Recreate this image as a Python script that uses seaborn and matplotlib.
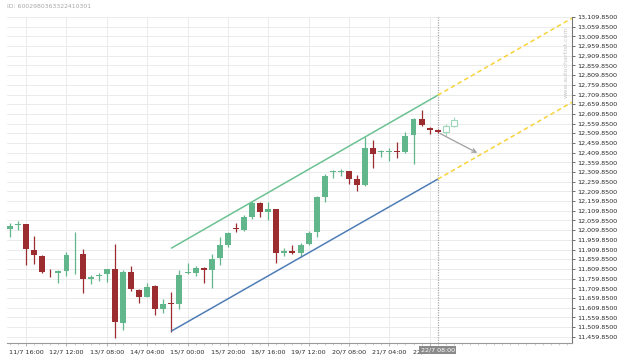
import matplotlib
matplotlib.use("Agg")
import matplotlib.pyplot as plt
import numpy as np
import pandas as pd
import seaborn as sns
from matplotlib.ticker import FixedLocator, FuncFormatter

# 4h candles
opens = [12014, 12034, 12040, 11907, 11876, 11790, 11787, 11799, 11885, 11886,
         11759, 11771, 11782, 11807, 11532, 11794, 11701, 11666, 11721, 11604,
         11632, 11628, 11788, 11788, 11814, 11804, 11866, 11931, 12019, 12010,
         12079, 12148, 12104, 12118, 11890, 11903, 11890, 11938, 12000, 12182,
         12309, 12309, 12313, 12272, 12241, 12433, 12412, 12412, 12416, 12412,
         12501, 12581, 12536, 12529]
highs = [12045, 12058, 12044, 11979, 11881, 11807, 11804, 11897, 12000, 11911,
         11777, 11790, 11811, 11938, 11804, 11825, 11704, 11735, 11725, 11656,
         11690, 11804, 11838, 11825, 11818, 11886, 11972, 12000, 12045, 12086,
         12158, 12154, 12154, 12120, 11917, 11931, 11942, 12007, 12185, 12302,
         12319, 12325, 12315, 12297, 12491, 12474, 12426, 12433, 12464, 12515,
         12588, 12629, 12540, 12532]
lows = [11972, 12010, 11828, 11835, 11790, 11766, 11738, 11773, 11783, 11684,
        11732, 11746, 11742, 11452, 11495, 11697, 11635, 11663, 11573, 11584,
        11484, 11604, 11783, 11774, 11735, 11711, 11828, 11924, 12000, 12007,
        12065, 12079, 12062, 11838, 11876, 11886, 11869, 11931, 11976, 12156,
        12278, 12289, 12247, 12210, 12237, 12333, 12388, 12367, 12381, 12406,
        12350, 12546, 12505, 12512]
closes = [12031, 12041, 11911, 11880, 11794, 11787, 11797, 11883, 11888, 11756,
          11769, 11780, 11807, 11536, 11794, 11707, 11666, 11718, 11604, 11629,
          11629, 11780, 11794, 11814, 11805, 11862, 11931, 11993, 12014, 12079,
          12148, 12103, 12117, 11893, 11903, 11890, 11934, 11996, 12179, 12290,
          12313, 12313, 12275, 12241, 12433, 12402, 12416, 12416, 12412, 12498,
          12581, 12550, 12529, 12515]

# two projected candles after the last bar
proj_pos = [54, 55]
proj_open = [12515, 12546]
proj_high = [12560, 12594]
proj_low = [12498, 12540]
proj_close = [12546, 12577]

# channel (candle positions and prices)
channel_x = [20, 53]
channel_upper = [11917, 12706]
channel_lower = [11489, 12273]
ext_x = [53, 69.64]
ext_upper = [12706, 13104]
ext_lower = [12273, 12670]
arrow_start = (53, 12515)
arrow_end = (58.2, 12402)

tick_pos = [2, 7, 12, 17, 22, 27, 32, 37, 42, 47, 52]
tick_labels = ["11/7 16:00", "12/7 12:00", "13/7 08:00", "14/7 04:00",
               "15/7 00:00", "15/7 20:00", "18/7 16:00", "19/7 12:00",
               "20/7 08:00", "21/7 04:00", "22/7 00:00"]
current_pos = 53
current_label = "22/7 08:00"

GREEN = "#62b68b"
RED = "#9b2d30"

sns.set_style("white")
plt.rcParams["font.family"] = ["DejaVu Sans"]

candles = pd.DataFrame({"pos": np.arange(len(opens)), "open": opens,
                        "high": highs, "low": lows, "close": closes})
candles["up"] = candles["close"] >= candles["open"]
candles["color"] = np.where(candles["up"], GREEN, RED)
candles["bottom"] = candles[["open", "close"]].min(axis=1)
candles["height"] = (candles["close"] - candles["open"]).abs().clip(lower=4)

fig = plt.figure(figsize=(6.25, 3.58), dpi=100)
ax = fig.add_axes([0.0112, 0.0419, 0.904, 0.9106])

ax.vlines(candles["pos"], candles["low"], candles["high"],
          colors=candles["color"], linewidth=0.9, zorder=3)
ax.bar(candles["pos"], candles["height"], bottom=candles["bottom"], width=0.74,
       color=candles["color"], linewidth=0, zorder=4)

ax.vlines(proj_pos, proj_low, proj_high, colors="#9fd8b8", linewidth=0.8, zorder=3)
ax.bar(proj_pos, np.subtract(proj_close, proj_open), bottom=proj_open, width=0.74,
       facecolor="white", edgecolor="#9fd8b8", linewidth=0.8, zorder=4)

sns.lineplot(x=channel_x, y=channel_upper, color="#6cc292", linewidth=1.1, ax=ax, zorder=5)
sns.lineplot(x=channel_x, y=channel_lower, color="#4f7db6", linewidth=1.1, ax=ax, zorder=5)
sns.lineplot(x=ext_x, y=ext_upper, color="#f7d43a", linewidth=1.1, linestyle=(0, (3, 2)),
             ax=ax, zorder=5)
sns.lineplot(x=ext_x, y=ext_lower, color="#f7d43a", linewidth=1.1, linestyle=(0, (3, 2)),
             ax=ax, zorder=5)
ax.annotate("", xy=arrow_end, xytext=arrow_start,
            arrowprops=dict(arrowstyle="->", color="#a0a0a0", lw=0.9,
                            mutation_scale=7), zorder=6)
ax.axvline(current_pos, color="#a8a8a8", linestyle=(0, (1, 1)), linewidth=0.9, zorder=2)

ax.set_xlim(-0.372, 69.64)
ax.set_ylim(11427.4, 13108.5)

yticks = np.arange(11459.85, 13110, 50)
ax.yaxis.tick_right()
ax.set_yticks(yticks)
ax.yaxis.set_major_formatter(FuncFormatter(lambda v, _: f"{v:,.4f}"))
ax.set_xticks(tick_pos)
ax.set_xticklabels(tick_labels)
ax.xaxis.set_minor_locator(FixedLocator(np.arange(0, 70)))
ax.tick_params(axis="y", which="major", right=True, length=2.5, width=0.6, pad=1.5,
               labelsize=4.6, colors="#555555", labelcolor="#2a2a2a")
ax.tick_params(axis="x", which="major", bottom=True, length=2, width=0.6, pad=2.5,
               labelsize=4.6, colors="#aaaaaa", labelcolor="#2a2a2a")
ax.tick_params(axis="x", which="minor", bottom=True, length=1.2, width=0.5,
               colors="#bbbbbb")
ax.grid(True, which="major", color="#ebebeb", linewidth=0.7, zorder=0)
ax.set_axisbelow(True)

for side in ["top", "left"]:
    ax.spines[side].set_visible(False)
ax.spines["right"].set_color("#777777")
ax.spines["right"].set_linewidth(0.8)
ax.spines["bottom"].set_color("#999999")
ax.spines["bottom"].set_linewidth(0.8)
ax.set_xlabel("")
ax.set_ylabel("")

ax.text(current_pos, -0.013, current_label, transform=ax.get_xaxis_transform(),
        ha="center", va="top", fontsize=4.6, color="white",
        bbox=dict(boxstyle="square,pad=0.25", facecolor="#8a8a8a", edgecolor="none"),
        zorder=10, clip_on=False)

fig.text(7 / 625, 1 - 6 / 358, "ID: 6002980363322410301", ha="left", va="center",
         fontsize=4.4, color="#a8a8a8")
fig.text(566 / 625, 1 - 62 / 358, "www.autochartist.com", rotation=90, ha="center",
         va="center", fontsize=4.6, color="#c4c4c4")

fig.savefig("out.png", dpi=100)
plt.close(fig)
